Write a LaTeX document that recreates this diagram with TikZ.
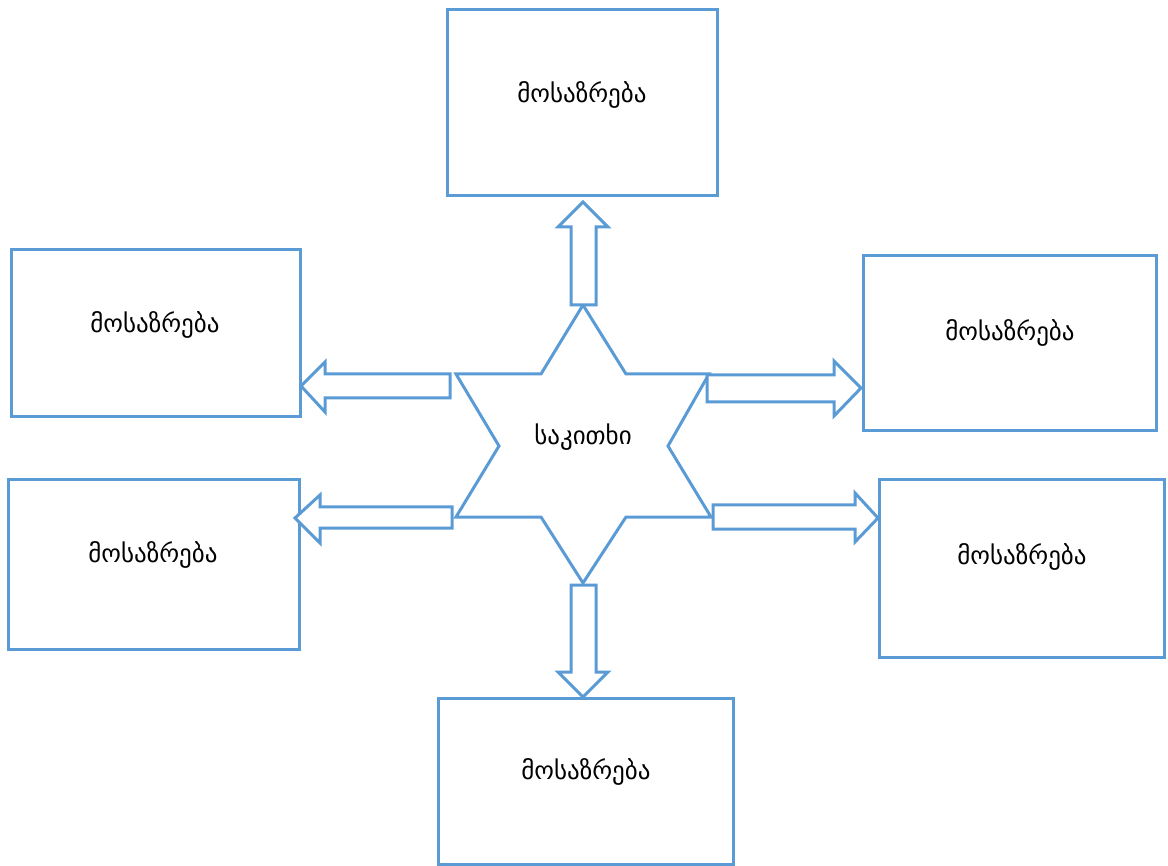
\documentclass[tikz,border=0pt]{standalone}
\usepackage{fontspec}
\newfontfamily\geo{DejaVu Sans}
\definecolor{lineblue}{RGB}{91,155,213}
\begin{document}
\begin{tikzpicture}[x=1pt,y=-1pt,
  box/.style={draw=lineblue,line width=3pt,fill=white},
  blockarrow/.style={draw=lineblue,line width=3pt,fill=white,line join=miter},
  lbl/.style={font=\geo\fontsize{25}{28}\selectfont,text=black}]
\useasboundingbox (0,0) rectangle (1168,866);
% boxes
\draw[box] (447,10) rectangle (717,196);
\draw[box] (11,250) rectangle (300,417);
\draw[box] (8,480) rectangle (299,649);
\draw[box] (863,256) rectangle (1156,431);
\draw[box] (879,480) rectangle (1164,657);
\draw[box] (438,698) rectangle (733,864);
\node[lbl] (top) at (582,95) {მოსაზრება};
\node[lbl] (l1) at (155,325) {მოსაზრება};
\node[lbl] (l2) at (153,555) {მოსაზრება};
\node[lbl] (r1) at (1010,333) {მოსაზრება};
\node[lbl] (r2) at (1022,557) {მოსაზრება};
\node[lbl] (bot) at (586,772) {მოსაზრება};
% star
\draw[blockarrow] (583,305) -- (626,374) -- (709,374) -- (668,446) -- (711,517) -- (626,517) -- (583,583) -- (541,517) -- (456,517) -- (499,446) -- (456,374) -- (541,374) -- cycle;
\node[lbl] (center) at (583,437) {საკითხი};
% arrows
\draw[blockarrow] (571,305) -- (571,227) -- (558,227) -- (583,202) -- (608,227) -- (596,227) -- (596,305) -- cycle;
\draw[blockarrow] (571,585) -- (571,672) -- (558,672) -- (583,697) -- (608,672) -- (596,672) -- (596,585) -- cycle;
\draw[blockarrow] (450,374) -- (325,374) -- (325,362) -- (301,386) -- (325,412) -- (325,398) -- (450,398) -- cycle;
\draw[blockarrow] (452,507) -- (320,507) -- (320,495) -- (295,518) -- (320,543) -- (320,528) -- (452,528) -- cycle;
\draw[blockarrow] (707,375) -- (834,375) -- (834,361) -- (861,388) -- (834,416) -- (834,402) -- (707,402) -- cycle;
\draw[blockarrow] (713,505) -- (855,505) -- (855,493) -- (878,518) -- (855,542) -- (855,529) -- (713,529) -- cycle;
\end{tikzpicture}
\end{document}
